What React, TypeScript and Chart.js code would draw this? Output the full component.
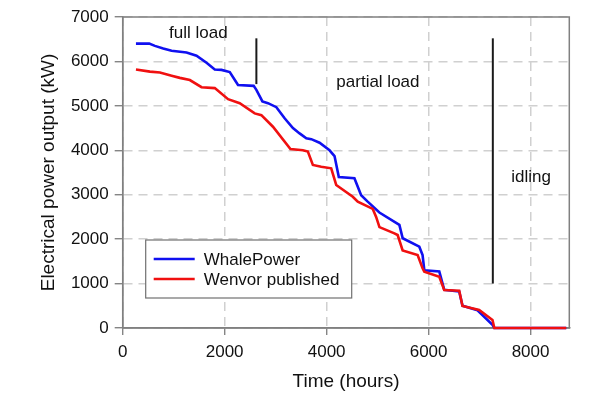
import React, { useEffect, useRef } from "react";
import { Chart, registerables } from "chart.js";

Chart.register(...registerables);

const whaleHours = [260, 520, 632, 795, 959, 1252, 1448, 1644, 1806, 1937, 2100, 2262, 2569, 2622, 2740, 2849, 3014, 3176, 3339, 3470, 3601, 3699, 3861, 4057, 4155, 4239, 4545, 4677, 4800, 5035, 5427, 5492, 5818, 5882, 5916, 6210, 6307, 6601, 6665, 6959, 7253, 7290, 8700];
const whaleKW = [6400, 6400, 6350, 6290, 6240, 6200, 6130, 5970, 5820, 5810, 5760, 5470, 5450, 5360, 5100, 5060, 4970, 4720, 4500, 4380, 4270, 4250, 4170, 4000, 3870, 3400, 3370, 2990, 2850, 2600, 2320, 2020, 1830, 1640, 1300, 1270, 860, 820, 500, 400, 70, 0, 0];

const wenvorHours = [260, 534, 730, 959, 1121, 1317, 1546, 1806, 2067, 2295, 2589, 2720, 2947, 3290, 3534, 3632, 3730, 3894, 4090, 4188, 4513, 4611, 4905, 4971, 5036, 5329, 5393, 5491, 5785, 5882, 5916, 6210, 6307, 6601, 6665, 6992, 7253, 7290, 8700];
const wenvorKW = [5820, 5770, 5750, 5680, 5630, 5580, 5420, 5400, 5150, 5060, 4830, 4790, 4530, 4030, 4000, 3970, 3670, 3630, 3594, 3220, 2955, 2843, 2680, 2500, 2270, 2131, 2093, 1745, 1643, 1344, 1267, 1155, 855, 840, 495, 405, 180, 0, 0];

const seriesNames = ["WhalePower", "Wenvor published"];
const seriesColors = ["#1010f0", "#f01010"];

const xTickValues = [0, 2000, 4000, 6000, 8000];
const xMax = 8760;
const yMax = 7000;
const yStep = 1000;

const boundaryHours = [2622, 7260];
const boundaryTopKW = [6520, 6520];
const boundaryBottomKW = [5490, 1000];

const phaseLabels = ["full load", "partial load", "idling"];
const phaseLabelHours = [1483, 5006, 8010];
const phaseLabelKW = [6640, 5537, 3399];

const FONT = "'Liberation Sans', Arial, Helvetica, sans-serif";
const TEXT = "#111111";

const toPoints = (xs: number[], ys: number[]) => xs.map((x, i) => ({ x, y: ys[i] }));

const framePlugin = {
  id: "frame",
  beforeDatasetsDraw(chart: any) {
    const { ctx, chartArea } = chart;
    ctx.save();
    ctx.strokeStyle = "#808080";
    ctx.lineWidth = 1.5;
    ctx.strokeRect(chartArea.left, chartArea.top, chartArea.right - chartArea.left, chartArea.bottom - chartArea.top);
    ctx.restore();
  },
};

const overlayPlugin = {
  id: "overlay",
  afterDatasetsDraw(chart: any) {
    const { ctx, chartArea } = chart;
    const xs = chart.scales.x;
    const ys = chart.scales.y;
    ctx.save();
    ctx.strokeStyle = "#1a1a1a";
    ctx.lineWidth = 2;
    boundaryHours.forEach((h, i) => {
      const px = xs.getPixelForValue(h);
      ctx.beginPath();
      ctx.moveTo(px, ys.getPixelForValue(boundaryTopKW[i]));
      ctx.lineTo(px, ys.getPixelForValue(boundaryBottomKW[i]));
      ctx.stroke();
    });
    ctx.fillStyle = TEXT;
    ctx.font = `17px ${FONT}`;
    ctx.textAlign = "center";
    ctx.textBaseline = "middle";
    phaseLabels.forEach((t, i) => {
      ctx.fillText(t, xs.getPixelForValue(phaseLabelHours[i]), ys.getPixelForValue(phaseLabelKW[i]));
    });
    const bx = chartArea.left + 23;
    const by = chartArea.top + 223;
    const bw = 206;
    const bh = 58;
    ctx.fillStyle = "#ffffff";
    ctx.fillRect(bx, by, bw, bh);
    ctx.strokeStyle = "#707070";
    ctx.lineWidth = 1.2;
    ctx.strokeRect(bx, by, bw, bh);
    chart.data.datasets.forEach((ds: any, i: number) => {
      const ry = by + 19 + i * 20;
      ctx.strokeStyle = ds.borderColor;
      ctx.lineWidth = 2.6;
      ctx.beginPath();
      ctx.moveTo(bx + 8, ry);
      ctx.lineTo(bx + 49, ry);
      ctx.stroke();
      ctx.fillStyle = TEXT;
      ctx.textAlign = "left";
      ctx.textBaseline = "middle";
      ctx.font = `17px ${FONT}`;
      ctx.fillText(ds.label, bx + 58, ry + 1);
    });
    ctx.restore();
  },
};

export default function App() {
  const ref = useRef<HTMLCanvasElement | null>(null);

  useEffect(() => {
    if (!ref.current) return;
    const chart = new Chart(ref.current, {
      type: "line",
      data: {
        datasets: [
          {
            label: seriesNames[0],
            data: toPoints(whaleHours, whaleKW),
            borderColor: seriesColors[0],
            backgroundColor: seriesColors[0],
            borderWidth: 2.6,
            pointRadius: 0,
            tension: 0,
            clip: false as any,
            order: 1,
          },
          {
            label: seriesNames[1],
            data: toPoints(wenvorHours, wenvorKW),
            borderColor: seriesColors[1],
            backgroundColor: seriesColors[1],
            borderWidth: 2.6,
            pointRadius: 0,
            tension: 0,
            clip: false as any,
            order: 0,
          },
        ],
      },
      options: {
        animation: false,
        responsive: false,
        events: [],
        layout: { padding: { left: 0, top: 17, right: 39.7, bottom: 0 } },
        plugins: {
          legend: { display: false },
          tooltip: { enabled: false },
          title: { display: false },
        },
        scales: {
          x: {
            type: "linear",
            min: 0,
            max: xMax,
            afterBuildTicks: (scale: any) => {
              scale.ticks = xTickValues.map((v) => ({ value: v }));
            },
            afterFit: (scale: any) => {
              scale.height = 69;
            },
            ticks: {
              color: TEXT,
              font: { family: FONT, size: 17 },
              padding: 7,
              maxRotation: 0,
              autoSkip: false,
              callback: (v: any) => String(v),
            },
            grid: {
              color: "#d0d0d0",
              lineWidth: 1.5,
              tickColor: "#707070",
              tickLength: 7,
              tickWidth: 1.2,
            },
            border: { display: true, color: "#808080", width: 1.5, dash: [9, 6] },
            title: {
              display: true,
              text: "Time (hours)",
              color: TEXT,
              font: { family: FONT, size: 19 },
              padding: { top: 0, bottom: 4 },
            },
          },
          y: {
            type: "linear",
            min: 0,
            max: yMax,
            afterFit: (scale: any) => {
              scale.width = 122.7;
            },
            ticks: {
              stepSize: yStep,
              color: TEXT,
              font: { family: FONT, size: 17 },
              padding: 6,
              callback: (v: any) => String(v),
            },
            grid: {
              color: "#d0d0d0",
              lineWidth: 1.5,
              tickColor: "#707070",
              tickLength: 8,
              tickWidth: 1.2,
            },
            border: { display: true, color: "#808080", width: 1.5, dash: [9, 6] },
            title: {
              display: true,
              text: "Electrical power output (kW)",
              color: TEXT,
              font: { family: FONT, size: 19 },
              padding: { top: 37, bottom: 0 },
            },
          },
        },
      } as any,
      plugins: [framePlugin, overlayPlugin],
    });
    return () => chart.destroy();
  }, []);

  return (
    <div style={{ position: "absolute", left: 0, top: 0, width: 609, height: 397, background: "#ffffff" }}>
      <canvas ref={ref} width={609} height={397} style={{ display: "block" }} />
    </div>
  );
}
